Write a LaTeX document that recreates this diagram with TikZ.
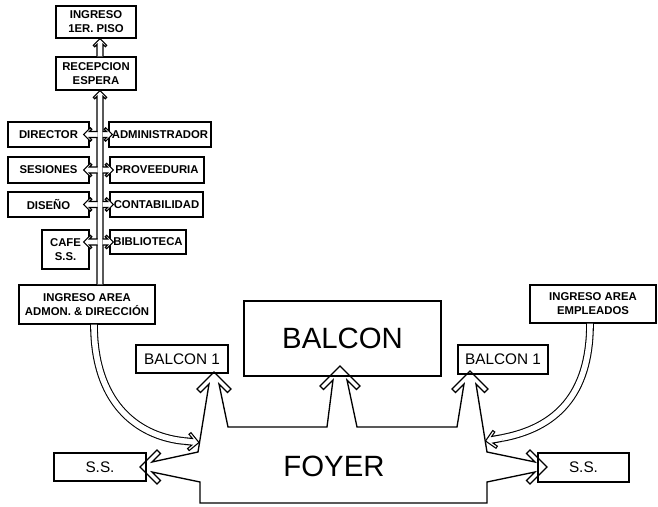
\documentclass[tikz,border=0pt]{standalone}
\usepackage{fontspec}
\setmainfont{Liberation Sans}
\usetikzlibrary{calc}

\tikzset{
  hall width/.store in=\hallw, barb/.store in=\hallbarb, barb width/.store in=\hallbt,
  hall width=2.25, barb=5, barb width=1.5,
  % hollow arrow as one outline, left open at its start
  passage/.style={to path={
    let \p1=($(\tikztotarget)-(\tikztostart)$),
        \n1={atan2(\y1,\x1)}, \n2={veclen(\x1,\y1)},
        \n3={\n2-\hallw pt-1.414*\hallbt pt}, \n4={\n2-\hallbarb pt-0.707*\hallbt pt},
        \n5={\hallbarb pt-0.707*\hallbt pt}, \n6={\n2-\hallbarb pt} in
    [shift={(\tikztostart)}, rotate=\n1]
    (0pt,-\hallw pt) -- (\n3,-\hallw pt) -- (\n4,-\n5) -- (\n6,-\hallbarb pt)
    -- (\n2,0pt) -- (\n6,\hallbarb pt) -- (\n4,\n5) -- (\n3,\hallw pt) -- (0pt,\hallw pt)
  }},
  hall/.style={draw, fill=white, line width=0.8pt},
  room/.style={draw, fill=white, line width=1pt, inner sep=0pt, align=center,
    font=\fontsize{8.5}{10.5}\selectfont\bfseries},
  wing/.style={room, font=\fontsize{11.5}{13}\selectfont},
  big label/.style={font=\fontsize{22}{26}\selectfont},
}

\begin{document}
\begin{tikzpicture}[x=0.75pt, y=-0.75pt]
\useasboundingbox (0,0) rectangle (658,507);

\node[room, minimum width=60pt, minimum height=24pt] (ingreso) at (96,22) {INGRESO\\1ER. PISO};
\node[room, minimum width=60pt, minimum height=24.75pt] (recep) at (96,73.5) {RECEPCION\\ESPERA};
\node[room, minimum width=60.75pt, minimum height=18.75pt] (director) at (48.5,134.5) {DIRECTOR};
\node[room, minimum width=76.5pt, minimum height=18.75pt] (admin) at (160,134.5) {ADMINISTRADOR};
\node[room, minimum width=60.75pt, minimum height=19.5pt] (sesiones) at (48.5,170) {SESIONES};
\node[room, minimum width=70.5pt, minimum height=19.5pt] (prov) at (157,170) {PROVEEDURIA};
\node[room, minimum width=60.75pt, minimum height=18.75pt] (diseno) at (48.5,204.5) {DISEÑO};
\node[room, minimum width=69.75pt, minimum height=18.75pt] (conta) at (156.5,204.5) {CONTABILIDAD};
\node[room, minimum width=35.25pt, minimum height=29.25pt] (cafe) at (65.5,249.5) {CAFE\\S.S.};
\node[room, minimum width=57pt, minimum height=18pt] (biblio) at (148,242) {BIBLIOTECA};
\node[room, minimum width=102pt, minimum height=29.25pt] (admon) at (87,304.5) {INGRESO AREA\\ADMON. \& DIRECCIÓN};

\node[wing, minimum width=69pt, minimum height=21pt] (balcon-w) at (182,359) {BALCON 1};
\node[room, big label, minimum width=147.75pt, minimum height=56.25pt] (balcon) at (342.5,338.5) {BALCON};
\node[wing, minimum width=67.5pt, minimum height=21.75pt] (balcon-e) at (503,359.5) {BALCON 1};
\node[room, minimum width=94.5pt, minimum height=28.5pt] (emp) at (593,304) {INGRESO AREA\\EMPLEADOS};
\node[wing, minimum width=69pt, minimum height=21pt] (ss-w) at (100,467) {S.S.};
\node[wing, minimum width=68.25pt, minimum height=21.75pt] (ss-e) at (583.5,467.5) {S.S.};
\node[big label] (foyer) at (334,466) {FOYER};

\coordinate (spine) at (100,0);
\coordinate (spine-l) at (97.5,0);
\coordinate (spine-r) at (102.5,0);
\coordinate (adm-end) at (184,441);
\coordinate (foyer-w) at (199,442.5);
\coordinate (emp-end) at (502,438);
\coordinate (foyer-e) at (485.5,441);

% corridor
\filldraw[hall] (admon.north -| spine) to[passage] (recep.south -| spine);
\filldraw[hall] (recep.north -| spine) to[passage] (ingreso.south -| spine);
\foreach \l/\r in {director/admin, sesiones/prov, diseno/conta, cafe/biblio}{
  \filldraw[hall] (spine-l |- \r.west) to[passage] ($(\l.east |- \r.west)+(-4.5pt,0)$);
  \filldraw[hall] (spine-r |- \r.west) to[passage] ($(\r.west)+(3pt,0)$);
}

% foyer
\draw[line width=1pt] (200,503) -- (200,482) -- (152,472) -- (160.5,480.5) -- (157,484)
  -- (140,467) -- (157,450) -- (160.5,453.5) -- (152,462) -- (198,452)
  -- (209,384) -- (200.5,392.5) -- (197,389) -- (214,372) -- (231,389) -- (227.5,392.5) -- (219,384)
  -- (228,427) -- (327,427)
  -- (333,380) -- (323.5,389.5) -- (320,386) -- (340,366) -- (360,386) -- (356.5,389.5) -- (347,380)
  -- (357,427) -- (457,427)
  -- (464,384) -- (455.5,392.5) -- (452,389) -- (470,371) -- (488,389) -- (484.5,392.5) -- (476,384)
  -- (487,452) -- (535,462) -- (526.5,453.5) -- (530,450) -- (547,467) -- (530,484) -- (526.5,480.5)
  -- (535,472) -- (487,482) -- (487,503) -- cycle;

% entrances
\draw[line width=0.8pt, double, double distance=4.2pt] ([xshift=5.25pt]admon.south)
  .. controls +(0,76) and +(-49,-5) .. (adm-end);
\filldraw[hall, hall width=2.5, barb=6.75, barb width=1.9] (adm-end) to[passage] (foyer-w);
\draw[line width=0.8pt, double, double distance=4.2pt] ([xshift=-2.25pt]emp.south)
  .. controls +(0,72) and +(53,-10) .. (emp-end);
\filldraw[hall, hall width=2.5, barb=6.75, barb width=1.9] (emp-end) to[passage] (foyer-e);
\end{tikzpicture}
\end{document}
